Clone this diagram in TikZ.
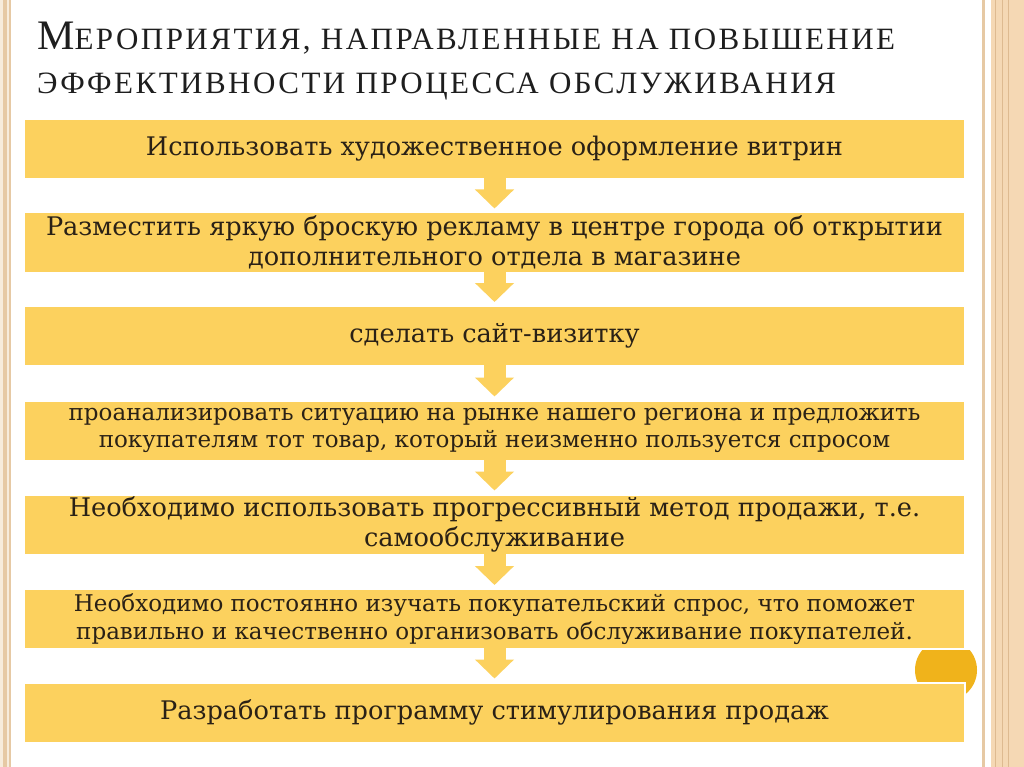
\documentclass[tikz,border=0pt]{standalone}
\usepackage{fontspec}
\setmainfont{DejaVu Serif}
\newfontfamily\headfont{Liberation Serif}[LetterSpace=8]
\usetikzlibrary{arrows.meta}
\definecolor{gold}{HTML}{FCD15E}
\definecolor{amber}{HTML}{F0B31B}
\definecolor{sand}{HTML}{F5D8B4}
\definecolor{cream}{HTML}{F7ECDC}
\definecolor{tan}{HTML}{E6C9A4}
\definecolor{ink}{HTML}{2A2116}
\definecolor{head}{HTML}{1E1E1E}
\newcommand{\firstcap}[1]{{\fontsize{42}{42}\selectfont #1}}
\tikzset{stepbox/.style={fill=gold,draw=white,line width=2pt,minimum width=941pt,minimum height=60pt,
  inner sep=0pt,align=center,text=ink,font=\fontsize{25.6}{30}\selectfont},
small/.style={font=\fontsize{23}{27.5}\selectfont},
headline/.style={anchor=base west,inner sep=0pt,text=head,font=\headfont\fontsize{31}{31}\selectfont},
flow/.style={-{Triangle[width=38pt,length=19pt]},line width=22pt,gold,shorten >=3pt,shorten <=-2pt}}

\begin{document}
\begin{tikzpicture}[x=1pt,y=-1pt]
\useasboundingbox (0,0) rectangle (1024,767);
\fill[white] (0,0) rectangle (1024,767);
% side bands
\fill[cream] (0,0) rectangle (11,767);
\fill[tan] (3,0) rectangle (7,767);
\fill[tan] (9,0) rectangle (10.5,767);
\fill[tan] (982,0) rectangle (985,767);
\fill[sand] (991,0) rectangle (1024,767);
\draw[tan!80!brown,line width=1pt] (995,0) -- (995,767);
\draw[tan!80!brown,line width=1pt] (1002,0) -- (1002,767);
\draw[tan!80!brown,line width=.6pt] (1008,0) -- (1008,767);
% heading
\node[headline] (title1) at (37,50) {\firstcap{М}ЕРОПРИЯТИЯ, НАПРАВЛЕННЫЕ НА ПОВЫШЕНИЕ};
\node[headline] (title2) at (37,94) {ЭФФЕКТИВНОСТИ ПРОЦЕССА ОБСЛУЖИВАНИЯ};
% badge behind the last boxes
\begin{scope}
\clip (900,650) rectangle (990,700);
\fill[amber] (946,670) circle (31);
\end{scope}
% steps
\node[stepbox] (s1) at (494.5,149) {Использовать художественное оформление витрин};
\node[stepbox] (s2) at (494.5,242.5) {Разместить яркую броскую рекламу в центре города об открытии\\дополнительного отдела в магазине};
\node[stepbox] (s3) at (494.5,336) {сделать сайт-визитку};
\node[stepbox,small] (s4) at (494.5,430.5) {проанализировать ситуацию на рынке нашего региона и предложить\\покупателям тот товар, который неизменно пользуется спросом};
\node[stepbox] (s5) at (494.5,524.5) {Необходимо использовать прогрессивный метод продажи, т.е.\\самообслуживание};
\node[stepbox,small] (s6) at (494.5,619) {Необходимо постоянно изучать покупательский спрос, что поможет\\правильно и качественно организовать обслуживание покупателей.};
\node[stepbox] (s7) at (494.5,712.5) {Разработать программу стимулирования продаж};
\foreach \a/\b in {s1/s2,s2/s3,s3/s4,s4/s5,s5/s6,s6/s7}
  \draw[flow] (\a.south) -- (\b.north);
\end{tikzpicture}
\end{document}
